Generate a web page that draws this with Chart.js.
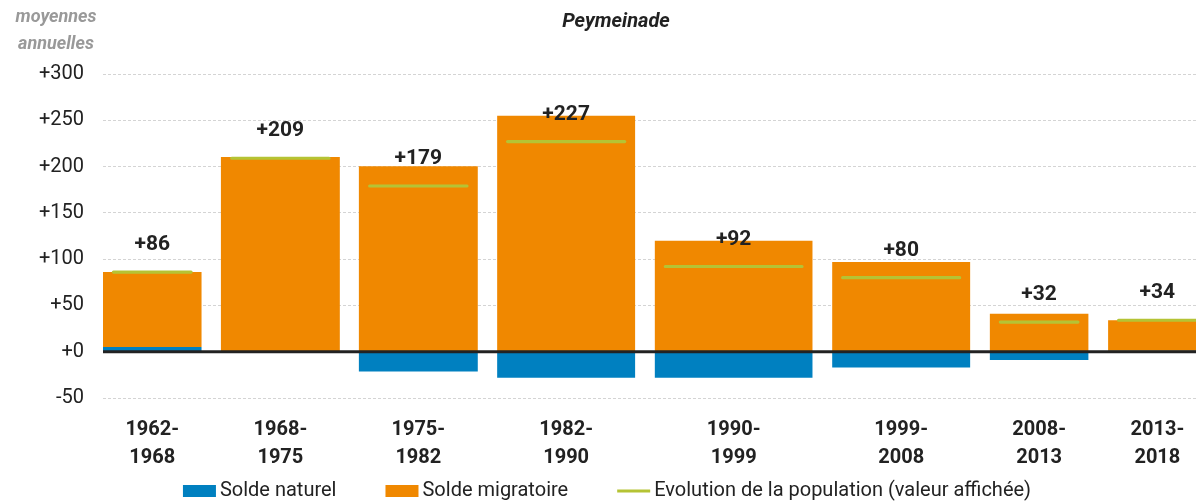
<!DOCTYPE html>
<html>
<head>
<meta charset="utf-8">
<script src="https://cdn.jsdelivr.net/npm/chart.js@4.4.0/dist/chart.umd.min.js"></script>
<style>
  html, body { margin: 0; padding: 0; background: #fff; }
  #wrap { width: 1196px; height: 503px; position: relative; }
</style>
</head>
<body>
<div id="wrap"><canvas id="myChart"></canvas></div>
<script>
const periods = ['1962-1968', '1968-1975', '1975-1982', '1982-1990', '1990-1999', '1999-2008', '2008-2013', '2013-2018'];
const soldeNaturel = [5, -1, -21, -28, -28, -17, -9, 1];
const soldeMigratoire = [81, 210, 200, 255, 120, 97, 41, 33];
const evolution = [86, 209, 179, 227, 92, 80, 32, 34];
const yTickValues = [-50, 0, 50, 100, 150, 200, 250, 300];
const legendLabels = ['Solde naturel', 'Solde migratoire', 'Evolution de la population (valeur affichée)'];

// bar widths in slot units (1 unit gap between bars)
const barUnits = [5, 6, 6, 7, 8, 7, 5, 5];

const blue = '#0080c0';
const orange = '#f08800';
const green = '#b5c334';
const textColor = '#222';

let centers = [];
let pos = 0;
barUnits.forEach(w => {
    centers.push(pos + w / 2);
    pos += w + 1;
});
const minGap = Math.min(...centers.slice(1).map((c, i) => c - centers[i]));

const datasets = [];
periods.forEach((p, i) => {
    datasets.push({
        label: legendLabels[2],
        data: [{x: centers[i], y: [evolution[i] - 1.7, evolution[i] + 1.7]}],
        backgroundColor: green,
        grouped: false,
        stack: 'evo',
        order: 0,
        categoryPercentage: 1,
        barPercentage: (barUnits[i] - 0.9) / minGap,
        borderRadius: 2,
        borderSkipped: false
    });
    datasets.push({
        label: legendLabels[0],
        data: [{x: centers[i], y: soldeNaturel[i]}],
        backgroundColor: blue,
        stack: 'solde',
        order: 1,
        categoryPercentage: 1,
        barPercentage: barUnits[i] / minGap
    });
    datasets.push({
        label: legendLabels[1],
        data: [{x: centers[i], y: soldeMigratoire[i]}],
        backgroundColor: orange,
        stack: 'solde',
        order: 1,
        categoryPercentage: 1,
        barPercentage: barUnits[i] / minGap
    });
});

const overlay = {
    id: 'overlay',
    afterDatasetsDraw(chart) {
        const {ctx, chartArea, scales: {x, y}} = chart;
        ctx.save();
        const y0 = y.getPixelForValue(0);
        ctx.strokeStyle = textColor;
        ctx.lineWidth = 3;
        ctx.beginPath();
        ctx.moveTo(chartArea.left, y0);
        ctx.lineTo(chartArea.right, y0);
        ctx.stroke();

        ctx.font = 'bold 21px Roboto';
        ctx.fillStyle = textColor;
        ctx.textAlign = 'center';
        ctx.textBaseline = 'middle';
        evolution.forEach((v, i) => {
            ctx.fillText('+' + v, x.getPixelForValue(centers[i]), y.getPixelForValue(v) - 27);
        });
        ctx.restore();
    },
    afterDraw(chart) {
        const ctx = chart.ctx;
        ctx.save();
        ctx.textAlign = 'center';
        ctx.textBaseline = 'middle';
        ctx.font = 'italic bold 20px Roboto';
        ctx.fillStyle = textColor;
        ctx.fillText('Peymeinade', 616, 22);
        ctx.font = 'italic bold 18px Roboto';
        ctx.fillStyle = '#999';
        ctx.fillText('moyennes', 56, 17);
        ctx.fillText('annuelles', 56, 44);

        // legend
        ctx.font = '20px Roboto';
        ctx.textAlign = 'left';
        const boxW = 33, gapText = 4, gapItem = 49;
        const widths = legendLabels.map(t => boxW + gapText + ctx.measureText(t).width);
        const total = widths.reduce((a, b) => a + b, 0) + gapItem * 2;
        let lx = 607 - total / 2;
        const ly = 491;
        const swatches = [blue, orange, green];
        legendLabels.forEach((t, i) => {
            if (i < 2) {
                ctx.fillStyle = swatches[i];
                ctx.fillRect(lx, ly - 6, boxW, 12);
            } else {
                ctx.strokeStyle = swatches[i];
                ctx.lineWidth = 3;
                ctx.beginPath();
                ctx.moveTo(lx, ly);
                ctx.lineTo(lx + boxW, ly);
                ctx.stroke();
            }
            ctx.fillStyle = textColor;
            ctx.fillText(t, lx + boxW + gapText, ly);
            lx += widths[i] + gapItem;
        });
        ctx.restore();
    }
};

new Chart(document.getElementById('myChart'), {
    type: 'bar',
    data: {datasets: datasets},
    options: {
        responsive: true,
        maintainAspectRatio: false,
        animation: false,
        layout: {padding: {top: 74, left: 0, right: 0, bottom: 24}},
        plugins: {
            tooltip: {enabled: false},
            legend: {display: false}
        },
        scales: {
            x: {
                type: 'linear',
                offset: false,
                min: 0,
                max: 55.46,
                grid: {display: false, offset: false},
                border: {display: false},
                afterBuildTicks: axis => {
                    axis.ticks = centers.map(c => ({value: c}));
                },
                afterFit: axis => {
                    axis.height = 81;
                },
                ticks: {
                    autoSkip: false,
                    maxRotation: 0,
                    padding: 10,
                    color: textColor,
                    font: {family: 'Roboto', size: 20, weight: 'bold', lineHeight: 1.4},
                    callback: (value, index) => {
                        const parts = periods[index].split('-');
                        return [parts[0] + '-', parts[1]];
                    }
                }
            },
            y: {
                stacked: true,
                min: -50,
                max: 300,
                afterBuildTicks: axis => {
                    axis.ticks = yTickValues.map(v => ({value: v}));
                },
                afterFit: axis => {
                    axis.width = 103;
                },
                grid: {color: '#d4d4d4', lineWidth: 1, drawTicks: false},
                border: {display: false, dash: [3, 2]},
                ticks: {
                    padding: 19,
                    color: textColor,
                    font: {family: 'Roboto', size: 20},
                    callback: v => (v >= 0 ? '+' + v : String(v))
                }
            }
        }
    },
    plugins: [overlay]
});
</script>
</body>
</html>
